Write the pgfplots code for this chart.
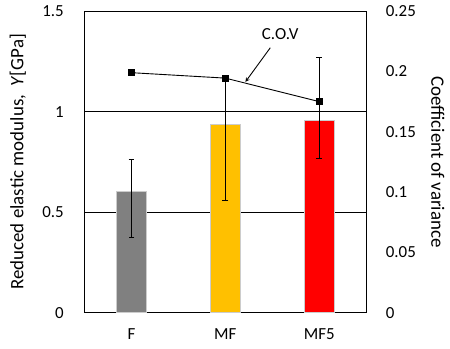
\documentclass[border=0pt]{standalone}
\usepackage{fontspec}
\setmainfont{Carlito}
\usepackage{pgfplots}
\pgfplotsset{compat=1.18}
\definecolor{cgray}{HTML}{808080}
\definecolor{corange}{HTML}{FFC000}
\definecolor{cred}{HTML}{FF0000}
\begin{document}
\fontsize{17}{20}\selectfont
\begin{tikzpicture}
\pgfplotsset{every axis/.append style={width=283pt,height=303pt,scale only axis,
  xmin=-0.5,xmax=2.5,
  /pgf/number format/assume math mode=true,
  tick label style={font=\fontsize{17}{20}\selectfont},
  major tick length=0pt,
  axis line style={black,line width=0.9pt}}}
\begin{axis}[name=ax,
  ymin=0,ymax=1.5,
  ytick={0,0.5,1,1.5}, yticklabels={0,0.5,1,1.5},
  xtick={0,1,2}, xticklabels={F,MF,MF5},
  yticklabel style={xshift=-15pt},
  xticklabel style={yshift=-10pt},
  ymajorgrids, major grid style={black,line width=0.9pt},
  error bars/error bar style={black,line width=0.9pt},
  error bars/error mark options={black,line width=0.9pt,mark size=3pt,rotate=90},
]
\addplot[ybar, bar width=30pt, bar shift=0pt, fill=cgray, draw=gray!40,
  error bars/.cd, y dir=both, y explicit]
  coordinates {(0,0.604) += (0,0.158) -= (0,0.231)};
\addplot[ybar, bar width=30pt, bar shift=0pt, fill=corange, draw=gray!40,
  error bars/.cd, y dir=both, y explicit]
  coordinates {(1,0.939) += (0,0.229) -= (0,0.383)};
\addplot[ybar, bar width=30pt, bar shift=0pt, fill=cred, draw=gray!40,
  error bars/.cd, y dir=both, y explicit]
  coordinates {(2,0.960) += (0,0.312) -= (0,0.194)};
\end{axis}
\begin{axis}[
  ymin=0,ymax=0.25,
  axis x line=none, axis y line*=right,
  ytick={0,0.05,0.1,0.15,0.2,0.25},
  yticklabels={0,0.05,0.1,0.15,0.2,0.25},
  yticklabel style={xshift=14pt},
]
\addplot[black, line width=0.9pt, mark=square*, mark size=3pt]
  coordinates {(0,0.199) (1,0.1945) (2,0.175)};
\node at (axis cs:1.585,0.231) {C.O.V};
\draw[line width=0.9pt,-stealth] (axis cs:1.479,0.2197) -- (axis cs:1.214,0.1914);
\end{axis}
\node[rotate=90,font=\fontsize{19}{22}\selectfont] at ([xshift=-67pt]ax.west) {Reduced elastic modulus,\ \ \textit{Y}[GPa]};
\node[rotate=-90,font=\fontsize{19}{22}\selectfont] at ([xshift=72pt]ax.east) {Coefficient of variance};
\path ([xshift=-85pt,yshift=-36pt]ax.south west) rectangle ([xshift=82pt,yshift=10pt]ax.north east);
\end{tikzpicture}
\end{document}
